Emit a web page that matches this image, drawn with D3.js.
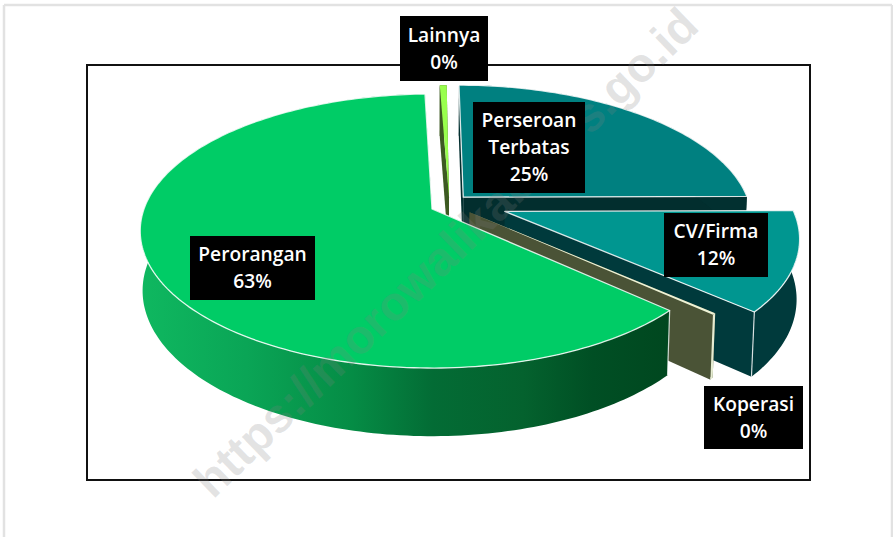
<!DOCTYPE html>
<html><head><meta charset="utf-8">
<style>html,body{margin:0;padding:0;background:#fff}svg{display:block}</style>
<script src="https://cdnjs.cloudflare.com/ajax/libs/d3/7.8.5/d3.min.js"></script>
</head><body><div id="chart"></div>
<script>
// ---- data ----
const categories = ["Perseroan Terbatas","CV/Firma","Koperasi","Perorangan","Lainnya"];
const shareValues = [24.9,11.75,0.2,62.7,0.45];
const shownPercent = ["25%","12%","0%","63%","0%"];
const labelLines = [["Perseroan","Terbatas"],["CV/Firma"],["Koperasi"],["Perorangan"],["Lainnya"]];

// ---- styling and layout ----
const W=893,H=537;
const topColors  = ["#008080","#009690","#eef3d6","#00cc66","#99ff4d"];
const sideColors = ["#022e2e","#003a3c","#4a5336","#004a20","#3d5a22"];
const rimColors  = ["#023030","#003a3c","#e6ecd2","url(#rimGreen)","#3d5a22"];
const drawOrder  = [0,4,1,2,3];
// exploded offset of each slice on the pie plane (unit = radius)
const explodeU = [0.11,0.252,0.13,0,0.06];
const explodeV = [-0.09,0.018,0.025,0,-0.09];
// label boxes [x0,y0,x1,y1]
const labelBoxes = [[473,102,585,193],[664,213,768,277],[704,386,803,449],[190,236,315,300],[400,16,488,81]];

const cx=432,cy=209,R=288,k=133.5,p=0.1606,h=59,q=0.008;
function project(theta,r,u0,v0,z){
  const u=u0+r*Math.sin(theta), v=v0-r*Math.cos(theta);
  const w=1-p*v+q*z;
  return [cx+R*u/w, cy+(k*v+h*z)/w];
}

const svg=d3.select("#chart").append("svg").attr("width",W).attr("height",H);
const defs=svg.append("defs");
const grad=defs.append("linearGradient").attr("id","rimGreen").attr("gradientUnits","userSpaceOnUse")
  .attr("x1",140).attr("x2",672).attr("y1",0).attr("y2",0);
[[0,"#0fb860"],[0.2,"#0aa556"],[0.4,"#058c45"],[0.55,"#036c35"],[0.72,"#04622e"],[0.85,"#004f24"],[1,"#00471f"]]
  .forEach(s=>grad.append("stop").attr("offset",s[0]).attr("stop-color",s[1]));

// page frame
const frameLines=[[4,5,892,5],[4,5,4,537],[892,5,892,537]];
svg.selectAll("line.page").data(frameLines).join("line").attr("class","page")
  .attr("x1",d=>d[0]).attr("y1",d=>d[1]).attr("x2",d=>d[2]).attr("y2",d=>d[3])
  .attr("stroke","#e2e2e2").attr("stroke-width",2.5);
// chart frame
svg.append("rect").attr("x",87).attr("y",65).attr("width",723).attr("height",415)
  .attr("fill","#fff").attr("stroke","#111").attr("stroke-width",2);

const pieGen=d3.pie().sort(null).startAngle(0).endAngle(2*Math.PI);
const arcs=pieGen(shareValues);
const line=d3.line();
function arcPts(a,b,u,v,z){
  const n=Math.max(2,Math.ceil(Math.abs(b-a)/0.02));
  return d3.range(n+1).map(i=>project(a+(b-a)*i/n,1,u,v,z));
}
const gPie=svg.append("g");
drawOrder.forEach(i=>{
  const a=arcs[i],u=explodeU[i],v=explodeV[i];
  const g=gPie.append("g").attr("class","slice");
  // flat side walls
  [a.startAngle,a.endAngle].forEach(t=>{
    g.append("path").attr("fill",sideColors[i])
     .attr("d",line([project(t,0,u,v,0),project(t,1,u,v,0),project(t,1,u,v,1),project(t,0,u,v,1)])+"Z");
  });
  // rim wall
  const top=arcPts(a.startAngle,a.endAngle,u,v,0), bot=arcPts(a.startAngle,a.endAngle,u,v,1).reverse();
  g.append("path").attr("fill",rimColors[i]).attr("d",line(top.concat(bot))+"Z");
  // top face
  g.append("path").attr("fill",topColors[i]).attr("stroke","#fff").attr("stroke-opacity",0.85)
   .attr("stroke-width",i==2||i==4?0:1.3).attr("stroke-linejoin","round")
   .attr("d",line([project(0,0,u,v,0)].concat(top))+"Z");
  // light corner edge at the front of the wedge
  if(i==1||i==3){
    g.append("path").attr("fill","none").attr("stroke","#fff").attr("stroke-opacity",0.8).attr("stroke-width",1.2)
     .attr("d",line([project(i==1?a.endAngle:a.startAngle,1,u,v,0),project(i==1?a.endAngle:a.startAngle,1,u,v,1)]));
  }
});

// watermark
svg.append("text").attr("transform","translate(213,500) rotate(-44)")
  .attr("font-family","'Liberation Sans',Arial,sans-serif").attr("font-weight",700).attr("font-size",47.9)
  .attr("fill","#808080").attr("fill-opacity",0.22)
  .text("https://morowalikab.bps.go.id");

// labels
const gLab=svg.append("g").attr("font-family","'Open Sans',sans-serif").attr("font-weight",600).attr("font-size",19.2);
categories.forEach((c,i)=>{
  const b=labelBoxes[i], lines=labelLines[i].concat([shownPercent[i]]);
  gLab.append("rect").attr("x",b[0]).attr("y",b[1]).attr("width",b[2]-b[0]).attr("height",b[3]-b[1]).attr("fill","#000");
  const mid=(b[1]+b[3])/2, lh=27;
  lines.forEach((t,j)=>{
    gLab.append("text").attr("x",(b[0]+b[2])/2).attr("y",mid+(j-(lines.length-1)/2)*lh+6.8)
      .attr("text-anchor","middle").attr("fill","#fff").text(t);
  });
});
</script></body></html>
